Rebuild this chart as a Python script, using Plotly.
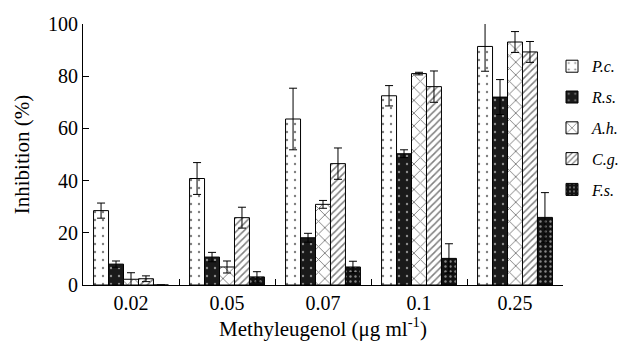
import plotly.graph_objects as go

concentrations = ["0.02", "0.05", "0.07", "0.1", "0.25"]
series_names = ["P.c.", "R.s.", "A.h.", "C.g.", "F.s."]

pc = [28.5, 40.8, 63.6, 72.5, 91.4]
rs = [8.0, 10.7, 18.1, 50.3, 72.0]
ah = [2.2, 6.9, 30.9, 81.0, 93.1]
cg = [2.4, 25.8, 46.5, 76.0, 89.3]
fs = [0.0, 3.1, 6.9, 10.2, 25.9]

pc_err = [2.9, 6.1, 11.8, 3.9, 9.5]
rs_err = [1.2, 1.8, 1.7, 1.5, 6.7]
ah_err = [2.5, 2.3, 1.5, 0.5, 4.0]
cg_err = [1.1, 4.0, 6.0, 6.0, 4.0]
fs_err = [0.0, 2.0, 2.2, 5.6, 9.5]

values = [pc, rs, ah, cg, fs]
errors = [pc_err, rs_err, ah_err, cg_err, fs_err]

patterns = [
    dict(shape=".", fgcolor="black", bgcolor="white", size=8, solidity=0.07),
    dict(shape=".", fgcolor="white", bgcolor="#1a1a1a", size=8, solidity=0.07),
    dict(shape="x", fgcolor="black", bgcolor="white", size=9, solidity=0.2),
    dict(shape="/", fgcolor="black", bgcolor="white", size=5, solidity=0.3),
    dict(shape=".", fgcolor="white", bgcolor="#111111", size=5, solidity=0.18),
]

SERIF = "Liberation Serif, Times New Roman, serif"

fig = go.Figure()
for name, vals, errs, pat in zip(series_names, values, errors, patterns):
    fig.add_trace(go.Bar(
        x=concentrations, y=vals, name=f"<i>{name}</i>",
        legendgroup=name,
        marker=dict(color=pat["bgcolor"], pattern=pat,
                    line=dict(color="black", width=1)),
        error_y=dict(type="data", array=errs, visible=True,
                     color="black", thickness=1, width=4),
        cliponaxis=False,
    ))

fig.update_layout(
    width=620, height=342,
    margin=dict(l=83, r=57, t=24, b=57, autoexpand=False),
    paper_bgcolor="white", plot_bgcolor="white",
    barmode="group", bargap=0.22, bargroupgap=0,
    font=dict(family=SERIF, color="black", size=20),
    legend=dict(x=(552 - 83) / 480, xanchor="left", y=0.903, yanchor="top",
                font=dict(family=SERIF, size=16, color="black"),
                tracegroupgap=7, itemwidth=30, bgcolor="rgba(0,0,0,0)"),
    xaxis=dict(
        showline=True, linecolor="black", linewidth=1,
        ticks="inside", tickson="boundaries", ticklen=6, tickcolor="black",
        tickfont=dict(size=20),
        title=dict(text="Methyleugenol (μg ml<sup>-1</sup>)", font=dict(size=21), standoff=4),
    ),
    yaxis=dict(
        range=[0, 100], tickvals=[0, 20, 40, 60, 80, 100],
        showline=True, linecolor="black", linewidth=1,
        ticks="inside", ticklen=6, tickcolor="black",
        showgrid=False, zeroline=False,
        tickfont=dict(size=20),
        title=dict(text="Inhibition (%)", font=dict(size=21), standoff=12),
    ),
)

fig.write_html(
    "out.html",
    config={"displayModeBar": False},
    post_script="document.body.style.margin='0';document.body.style.overflow='hidden';",
)
